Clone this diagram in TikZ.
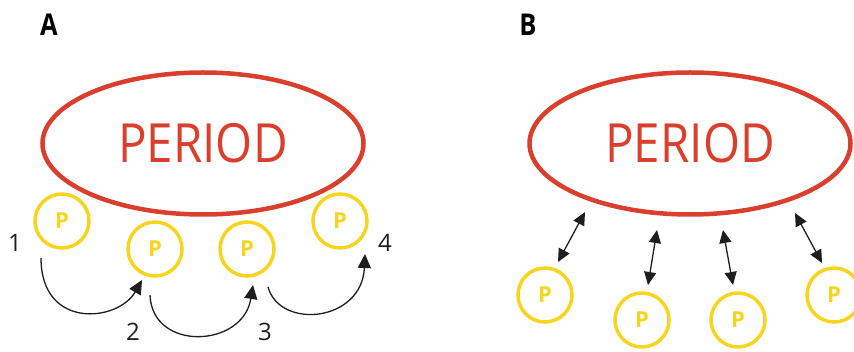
\documentclass[tikz,border=0pt]{standalone}
\usepackage{fontspec}
\usepackage{graphicx}
\setmainfont{Open Sans}
\usetikzlibrary{arrows.meta,shapes.geometric,calc}
\definecolor{pred}{RGB}{218,62,44}
\definecolor{pyel}{RGB}{247,212,30}
\definecolor{ink}{RGB}{30,30,30}
\begin{document}
\begin{tikzpicture}[x=1pt,y=-1pt,
 period/.style={ellipse,draw=pred,line width=4.5pt,minimum width=321pt,minimum height=142pt,inner sep=0pt,text=pred,font=\fontsize{54}{54}\selectfont},
 pcirc/.style={circle,draw=pyel,line width=3.5pt,minimum size=54pt,inner sep=0pt,text=pyel,font=\bfseries\fontsize{22}{22}\selectfont},
 num/.style={text=ink,font=\fontsize{24}{24}\selectfont,inner sep=0pt},
 panel/.style={font=\bfseries\fontsize{30}{30}\selectfont,inner sep=0pt},
 hop/.style={draw=ink,line width=1.3pt,-{Triangle[length=14pt,width=13pt]}},
 link/.style={draw=ink,line width=1.3pt,{Triangle[length=13pt,width=12pt]}-{Triangle[length=13pt,width=12pt]}}]
\useasboundingbox (0,0) rectangle (854,352);

% Panel A
\node[panel] (la) at (49,25) {\scalebox{0.85}[1]{A}};
\node[pcirc] (pa1) at (62,221) {P};
\node[pcirc] (pa2) at (155,249) {P};
\node[pcirc] (pa3) at (247,249) {P};
\node[pcirc] (pa4) at (340,221) {P};
\node[period] (ea) at (203,143.5) {\scalebox{0.88}[1]{PERIOD}};
\node[num] (n1) at (15,243) {1};
\node[num] (n2) at (133,332) {2};
\node[num] (n3) at (265,332) {3};
\node[num] (n4) at (385,243) {4};
\coordinate (a1s) at ($(pa1)+(-21,37)$);
\coordinate (a1e) at ($(pa2)+(-13,31)$);
\coordinate (a2s) at ($(pa2)+(-5,46)$);
\coordinate (a2e) at ($(pa3)+(6,36)$);
\coordinate (a3s) at ($(pa3)+(21,38)$);
\coordinate (a3e) at ($(pa4)+(25,33)$);
\draw[hop] (a1s) .. controls (41,330) and (118,322) .. (a1e);
\draw[hop] (a2s) .. controls (152,352) and (243,348) .. (a2e);
\draw[hop] (a3s) .. controls (280,330) and (362,322) .. (a3e);

% Panel B
\node[panel] (lb) at (528,25) {\scalebox{0.85}[1]{B}};
\node[pcirc] (pb1) at (545,295) {P};
\node[pcirc] (pb2) at (642,320) {P};
\node[pcirc] (pb3) at (738,320) {P};
\node[pcirc] (pb4) at (834,295) {P};
\node[period] (eb) at (690,143.5) {\scalebox{0.88}[1]{PERIOD}};
\coordinate (b1) at (585,212);
\coordinate (b2) at (657,230);
\coordinate (b3) at (723,230);
\coordinate (b4) at (795,213);
\draw[link] (b1) -- ($(pb1)+(13,-33)$);
\draw[link] (b2) -- ($(pb2)+(6,-35)$);
\draw[link] (b3) -- ($(pb3)+(-5,-35)$);
\draw[link] (b4) -- ($(pb4)+(-12,-32)$);
\end{tikzpicture}
\end{document}
